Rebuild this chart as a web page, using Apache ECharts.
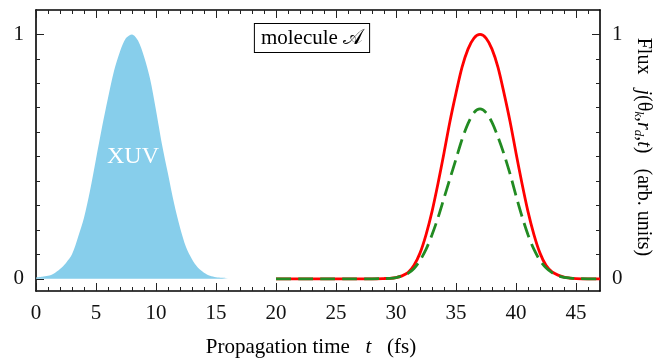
<!DOCTYPE html>
<html>
<head>
<meta charset="utf-8">
<script src="https://cdn.jsdelivr.net/npm/echarts@6/dist/echarts.min.js"></script>
<style>html,body{margin:0;padding:0;background:#fff}#c{width:668px;height:360px}</style>
</head>
<body>
<div id="c"></div>
<script>
// ---- data ----
const xuvT = [0,0.5,1,1.5,2,2.5,3,3.5,4,4.5,5,5.5,6,6.5,7,7.5,8,8.5,9,9.5,10,10.5,11,11.5,12,12.5,13,13.5,14,14.5,15,15.5,16];
const xuvV = [0.005,0.008,0.012,0.022,0.04,0.065,0.10,0.17,0.25,0.36,0.49,0.62,0.74,0.85,0.93,0.985,1.0,0.975,0.91,0.82,0.69,0.55,0.43,0.31,0.21,0.13,0.08,0.045,0.025,0.012,0.006,0.004,0.003];

const fluxT = [20,22,24,26,28,29,29.5,30,30.5,31,31.5,32,32.5,33,33.5,34,34.5,35,35.5,36,36.5,37,37.5,38,38.5,39,39.5,40,40.5,41,41.5,42,42.5,43,43.5,44,44.5,45,46,47];
const redV   = [0,0,0,0,0,0.001,0.002,0.005,0.012,0.025,0.055,0.105,0.18,0.275,0.39,0.515,0.645,0.76,0.865,0.94,0.985,1.0,0.985,0.94,0.865,0.76,0.645,0.515,0.39,0.275,0.18,0.105,0.055,0.028,0.015,0.007,0.003,0.001,0,0];
const greenV = [0,0,0,0,0,0.001,0.002,0.005,0.011,0.022,0.042,0.075,0.12,0.18,0.25,0.33,0.41,0.49,0.57,0.635,0.68,0.695,0.68,0.64,0.58,0.51,0.43,0.34,0.255,0.18,0.12,0.075,0.045,0.025,0.013,0.006,0.003,0.001,0,0];

const xMajorTicks = [0,5,10,15,20,25,30,35,40,45];
const xMinorTicks = [1,2,3,4,6,7,8,9,11,12,13,14,16,17,18,19,21,22,23,24,26,27,28,29,31,32,33,34,36,37,38,39,41,42,43,44,46];
const yMajorTicks = [0,1];
const yMinorTicks = [0.1,0.2,0.3,0.4,0.5,0.6,0.7,0.8,0.9];
const xLabels = [0,5,10,15,20,25,30,35,40,45];
const yLabels = [0,1];

// ---- chart ----
const FONT = '"Liberation Serif","DejaVu Serif",serif';
const chart = echarts.init(document.getElementById('c'), null, {renderer:'canvas'});
const G = {left:36, right:68, top:10, bottom:69};
function xAx(grid, pos, ticks, len, line, labels){
  return {type:'value', gridIndex:grid, position:pos, min:0, max:47,
    axisLine:{show:line, onZero:false, lineStyle:{color:'#000', width:1.6}},
    axisTick:{show:true, inside:true, length:len, customValues:ticks, lineStyle:{color:'#222', width:1}},
    axisLabel:labels ? {show:true, customValues:labels, margin:12, color:'#111', fontFamily:FONT, fontSize:21} : {show:false},
    splitLine:{show:false}};
}
function yAx(grid, pos, ticks, len, line, labels){
  return {type:'value', gridIndex:grid, position:pos, min:-0.05, max:1.1,
    axisLine:{show:line, onZero:false, lineStyle:{color:'#000', width:1.6}},
    axisTick:{show:true, inside:true, length:len, customValues:ticks, lineStyle:{color:'#222', width:1}},
    axisLabel:labels ? {show:true, customValues:labels, margin:12, color:'#111', fontFamily:FONT, fontSize:21} : {show:false},
    splitLine:{show:false}};
}
const xuvData = xuvT.map((t,i)=>[t, xuvV[i]]);
const redData = fluxT.map((t,i)=>[t, redV[i]]);
const greenData = fluxT.map((t,i)=>[t, greenV[i]]);

chart.setOption({
  animation:false,
  backgroundColor:'#fff',
  grid:[Object.assign({}, G), Object.assign({}, G)],
  xAxis:[
    xAx(0,'bottom',xMinorTicks,4,true,xLabels),
    xAx(0,'top',xMinorTicks,4,true,null),
    xAx(1,'bottom',xMajorTicks,8,false,null),
    xAx(1,'top',xMajorTicks,8,false,null)
  ],
  yAxis:[
    yAx(0,'left',yMinorTicks,4,true,yLabels),
    yAx(0,'right',yMinorTicks,4,true,yLabels),
    yAx(1,'left',yMajorTicks,8,false,null),
    yAx(1,'right',yMajorTicks,8,false,null)
  ],
  series:[
    {type:'line', name:'XUV', xAxisIndex:0, yAxisIndex:0, data:xuvData, showSymbol:false, smooth:0.3,
     lineStyle:{width:0, color:'#87CEEB'}, areaStyle:{color:'#87CEEB', opacity:1}, itemStyle:{color:'#87CEEB'}, z:1},
    {type:'line', name:'red', xAxisIndex:0, yAxisIndex:0, data:redData, showSymbol:false, smooth:0.3,
     lineStyle:{width:2.8, color:'#ff0000'}, itemStyle:{color:'#ff0000'}, z:3},
    {type:'line', name:'green', xAxisIndex:0, yAxisIndex:0, data:greenData, showSymbol:false, smooth:0.3,
     lineStyle:{width:2.8, color:'#228B22', type:[15,7]}, itemStyle:{color:'#228B22'}, z:4}
  ],
  graphic:[
    {type:'text', x:133, y:157, z:10, style:{text:'XUV', fill:'#fff', font:'24px '+FONT, align:'center', verticalAlign:'middle'}},
    {type:'text', x:312, y:38, z:10, style:{text:'molecule 𝒜', fill:'#000', font:'21px '+FONT, align:'center', verticalAlign:'middle',
       backgroundColor:'#fff', borderColor:'#000', borderWidth:1, padding:[4,6,3,6]}},
    {type:'text', x:311, y:347, z:10, style:{
       text:'Propagation time   {i|t}   (fs)', fill:'#000', font:'21px '+FONT, align:'center', verticalAlign:'middle',
       rich:{i:{fontStyle:'italic', fontFamily:FONT, fontSize:21}}}},
    {type:'text', x:643, y:147, rotation:-Math.PI/2, z:10, style:{
       text:'Flux   {i|j}(θ{s|k},{i|r}{s|d},{i|t})   (arb. units)', fill:'#000', font:'20px '+FONT, align:'center', verticalAlign:'middle',
       rich:{i:{fontStyle:'italic', fontFamily:FONT, fontSize:20}, s:{fontStyle:'italic', fontFamily:FONT, fontSize:13, verticalAlign:'bottom', padding:[10,0,0,0]}}}}
  ]
});
</script>
</body>
</html>
